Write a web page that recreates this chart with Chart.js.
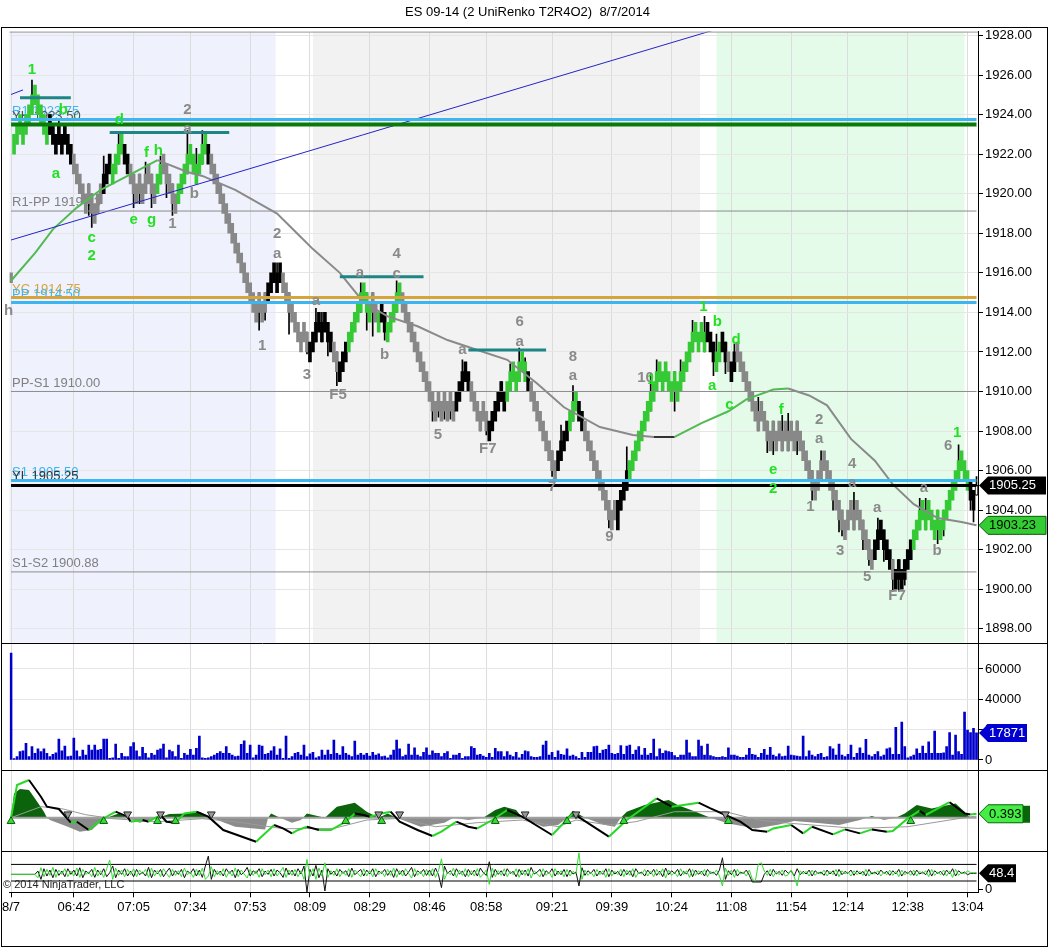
<!DOCTYPE html>
<html>
<head>
<meta charset="utf-8">
<title>ES 09-14 UniRenko</title>
<script src="https://cdn.jsdelivr.net/npm/chart.js@4.4.0/dist/chart.umd.min.js"></script>
<style>
html,body{margin:0;padding:0;background:#fff;}
#wrap{width:1055px;height:948px;}
canvas{display:block;}
</style>
</head>
<body>
<div id="wrap"><canvas id="es" width="1055" height="948"></canvas></div>
<script>
// ---------- data ----------
var chartTitle = 'ES 09-14 (2 UniRenko T2R4O2)  8/7/2014';

// bar closes (one per renko bar)
var closes = [
 1915.5,1923,1923.5,1923,1923.5,1924,1924.5,1925,1924.5,1924,
 1923.5,1923,1923.5,1923,1922.5,1923,1922.5,1923,1922.5,1922,
 1921.5,1921,1920.5,1920,1919.5,1920,1919.5,1919,1919.5,1920,
 1920.5,1921,1921.5,1921,1921.5,1922,1922.5,1922,1921.5,1921,
 1920.5,1920,1920.5,1920,1920.5,1921,1920.5,1920,1920.5,1921,
 1921.5,1921,1920.5,1920,1919.5,1920,1920.5,1921,1921.5,1922,
 1921.5,1921,1921.5,1922,1922.5,1922,1921.5,1921,1920.5,1920,
 1919.5,1919,1918.5,1918,1917.5,1917,1916.5,1916,1915.5,1915,
 1914.5,1914,1914.5,1914,1914.5,1915,1915.5,1916,1915.5,1916,
 1915.5,1915,1914.5,1914,1913.5,1913,1912.5,1913,1912.5,1912,
 1912.5,1913,1913.5,1913,1913.5,1913,1912.5,1912,1911.5,1911,
 1911.5,1912,1912.5,1913,1913.5,1914,1914.5,1915,1914.5,1914,
 1914.5,1914,1913.5,1914,1913.5,1913,1913.5,1914,1914.5,1915,
 1914.5,1914,1913.5,1913,1912.5,1912,1911.5,1911,1910.5,1910,
 1909.5,1909,1909.5,1909,1909.5,1909,1909.5,1909,1909.5,1910,
 1910.5,1911,1910.5,1910,1909.5,1909,1908.5,1909,1908.5,1908,
 1908.5,1909,1909.5,1910,1909.5,1910,1910.5,1911,1910.5,1911,
 1911.5,1911,1910.5,1910,1909.5,1909,1908.5,1908,1907.5,1907,
 1906.5,1906,1906.5,1907,1907.5,1908,1908.5,1909,1909.5,1909,
 1908.5,1908,1907.5,1907,1906.5,1906,1905.5,1905,1904.5,1904,
 1903.5,1904,1903.5,1904.5,1905,1905.5,1906,1906.5,1907,1907.5,
 1908,1908.5,1909,1909.5,1910,1910.5,1911,1910.5,1911,1910.5,
 1910,1910.5,1910,1910.5,1911,1911.5,1912,1912.5,1913,1912.5,
 1913,1912.5,1913,1912.5,1912,1911.5,1912,1912.5,1912,1911.5,
 1911,1911.5,1912,1911.5,1911,1910.5,1910,1909.5,1909,1908.5,
 1909,1908.5,1908,1907.5,1908,1907.5,1908,1907.5,1908,1907.5,
 1908,1907.5,1908,1907.5,1907,1906.5,1906,1905.5,1905,1905.5,
 1906,1906.5,1906,1905.5,1905,1904.5,1904,1903.5,1903,1903.5,
 1904,1903.5,1904,1903.5,1903,1902.5,1902,1901.5,1902,1902.5,
 1903,1902.5,1902,1901.5,1901,1900.5,1901,1900.5,1901,1901.5,
 1902,1902.5,1903,1903.5,1904,1903.5,1904,1903.5,1903,1903.5,
 1903,1903.5,1904,1904.5,1905,1905.5,1906,1906.5,1906,1905.5,
 1905,1904.5,1904,1905.25
];

// paint of each bar: g = up trend, k = counter bar, s = down trend, o = open bar
var barKinds = [
 'sggggggggg','gggkkkkkkk','ksssssssss','skkkggggkk','sssssssssg',
 'gsssssgggg','ggggggksss','ssssssssss','sssssskkkk','ksssssssss',
 'kkkkkkkkss','kkkggggggg','gssgkkgggg','gsssssssss','sssssssssk',
 'kkkkssssss','kkkkkkgggg','gggkssssss','ssskkkkggg','kkssssssss',
 'ssskkkkggg','gggggggggg','gggggggggg','gggkkkggkk','skksssssss',
 'ssssssssss','ssssssssss','ssssssssss','sssssssssk','kkkkkskkkk',
 'kkgggggggg','gggggggggg','gkko'
].join('');

// [bar, wick extreme price]
var wicks = [
 [7,1925.75],[13,1923.9],[16,1923.7],[26,1918.9],[27,1918.3],[31,1921.9],[36,1923.1],[41,1919.3],
 [43,1919.5],[45,1921.6],[47,1919.3],[50,1921.9],[52,1919.8],[54,1918.9],[59,1923.2],[62,1922.3],
 [64,1923.2],[83,1913.1],[85,1913.6],[89,1916.5],[93,1912.9],[99,1911.9],[102,1914.2],[104,1914.0],
 [106,1911.8],[109,1910.3],[117,1915.5],[119,1913.1],[121,1912.8],[125,1912.6],[129,1915.6],
 [141,1908.5],[143,1908.7],[145,1908.6],[147,1908.6],[151,1911.6],[157,1908.1],[159,1907.8],
 [164,1910.5],[167,1911.4],[170,1912.2],[172,1911.7],[181,1905.7],[184,1908.3],[188,1910.3],
 [200,1903.1],[204,1904.2],[206,1907.2],[214,1910.9],[216,1911.6],[222,1909.0],[224,1911.6],
 [228,1913.6],[232,1913.8],[235,1910.8],[236,1912.9],[239,1910.9],[242,1912.4],[250,1909.7],
 [253,1906.9],[255,1906.8],[258,1908.8],[260,1908.9],[263,1906.8],[268,1904.5],[271,1907.0],
 [275,1904.0],[277,1902.9],[278,1902.7],[282,1904.9],[285,1902.0],[287,1901.2],[290,1903.6],
 [292,1901.4],[295,1899.9],[297,1899.9],[299,1900.2],[304,1904.6],[306,1904.6],[310,1902.3],
 [312,1902.7],[317,1907.3],[321,1904.0],[322,1903.4],[323,1905.7]
];

// moving average vertices [bar, price]
var maLine = [
 [0,1915.6],[8,1917.0],[14,1918.2],[22,1919.3],[30,1920.2],[39,1920.9],[49,1921.7],[59,1921.1],
 [64,1920.9],[75,1920.2],[89,1919.0],[97,1917.8],[101,1917.2],[110,1916.0],[118,1914.5],[126,1913.8],
 [136,1913.3],[146,1912.6],[154,1912.2],[166,1911.6],[176,1910.4],[185,1909.2],[197,1908.2],
 [208,1907.8],[215,1907.7],[222,1907.7],[231,1908.4],[240,1909.0],[246,1909.6],[255,1910.1],
 [260,1910.15],[267,1909.8],[273,1909.3],[281,1907.6],[289,1906.5],[295,1905.3],[302,1904.3],
 [310,1903.6],[318,1903.4],[323,1903.23]
];

// pivot levels
var levelNames  = ['R1', 'YH', 'R1-PP', 'YC', 'PP', 'PP-S1', 'S1', 'YL', 'S1-S2'];
var levelPrices = [1923.75, 1923.50, 1919.125, 1914.75, 1914.50, 1910.00, 1905.50, 1905.25, 1900.875];

// swing resistance marks [fromBar, toBar, price]
var swingMarks = [[3,20,1924.85],[33,73,1923.1],[110,138,1915.8],[153,179,1912.1]];

// trend lines [bar, price]
var trendMain  = [[0,1917.66],[240,1928.5]];
var trendShort = [[0,1925.02],[4,1925.25]];

// session shading (bar ranges)
var zoneFrom = [-0.5, 101, 236];
var zoneTo   = [88.5, 230.5, 319];

// wave counts [bar, price, text, u=up count / d=down count]
var waveLabels = [
 [7,1926.27,'1','u'],[17.5,1924.24,'b','u'],[15,1921.0,'a','u'],[27,1917.77,'c','u'],[27,1916.86,'2','u'],
 [36.2,1923.74,'d','u'],[41,1918.68,'e','u'],[45.3,1922.07,'f','u'],[47,1918.68,'g','u'],[49.3,1922.18,'h','u'],
 [-0.8,1914.07,'h','d'],[59,1924.24,'2','d'],[59,1923.28,'a','d'],[61.3,1919.99,'b','d'],[54,1918.48,'1','d'],
 [89,1917.97,'2','d'],[89,1916.96,'a','d'],[84,1912.3,'1','d'],[102,1914.58,'a','d'],[99,1910.84,'3','d'],
 [109.4,1909.83,'F5','d'],[116.7,1916.02,'a','d'],[129,1916.97,'4','d'],[129,1915.97,'c','d'],[125,1911.85,'b','d'],
 [142.8,1907.8,'5','d'],[151,1912.1,'a','d'],[159.5,1907.09,'F7','d'],[170.2,1913.52,'6','d'],[170.2,1912.51,'a','d'],
 [181,1905.18,'7','d'],[188,1911.75,'8','d'],[188,1910.79,'a','d'],[200.2,1902.64,'9','d'],[212.3,1910.69,'10','d'],
 [214.2,1910.59,'1','u'],[231.6,1914.28,'1','u'],[236.3,1913.5,'b','u'],[234.6,1910.28,'a','u'],
 [242.6,1912.61,'d','u'],[240.3,1909.3,'c','u'],[257.7,1909.05,'f','u'],[255,1906.02,'e','u'],[255,1905.1,'2','u'],
 [270.4,1908.57,'2','d'],[270.4,1907.61,'a','d'],[267.4,1904.17,'1','d'],[281.4,1906.32,'4','d'],[281.4,1905.36,'a','d'],
 [277.4,1901.95,'3','d'],[289.8,1904.12,'a','d'],[286.4,1900.6,'5','d'],[296.4,1899.64,'F7','d'],[305.4,1905.13,'a','d'],
 [309.8,1901.95,'b','d'],[313.5,1907.26,'6','d'],[316.5,1907.9,'1','u']
];

// volume per bar
var volume = [
 70500,1000,2200,5500,6000,11000,2200,8800,4400,7300,
 5500,7300,4400,2200,3700,4800,13800,6000,9200,2200,
 2600,14500,6000,2200,6600,3300,9900,6600,9900,6600,
 7000,13800,13800,1100,1500,10500,1100,4400,2200,2200,
 8800,11400,6000,2200,8400,4400,1500,4400,3300,6600,
 7300,10500,1500,6600,5500,2200,9900,1100,4400,3300,
 7000,3300,7700,15800,1500,1100,1500,2200,3300,4400,
 5500,4400,8800,4400,3300,2200,2600,10300,12700,4400,
 9900,1500,3300,9900,9200,3700,4400,6000,8800,3300,
 7300,1100,15800,1100,2200,4400,5000,3300,9900,2200,
 4000,5000,1500,2200,6600,3300,6600,3700,13200,4400,
 3300,8800,4400,3300,2200,12500,3300,4400,3300,4400,
 2600,5000,3300,4000,2200,2600,1500,3300,6600,13200,
 7300,2200,3300,10500,3300,8100,3300,2200,5000,8100,
 3300,6000,4400,4400,2200,4400,5500,1100,3300,3300,
 4400,1100,2200,2200,8800,7700,3300,3700,2600,1800,
 4400,1800,7700,5500,5500,2200,5500,3300,2200,5000,
 1500,3700,6000,
 5500,2200,1800,1800,2200,9900,12500,3300,5000,1800,
 6000,3700,3300,7300,2600,3300,2200,1100,5000,1800,
 5000,5000,8800,9200,4400,6600,7000,9900,4400,3700,
 4400,9500,3700,9200,9900,3700,6600,8800,3300,7700,
 3300,4400,13800,2200,7300,4400,6000,5500,5000,
 2900,1800,3300,3300,13200,4800,2200,2200,13200,9200,
 3300,10500,2900,2200,1800,1800,2200,1800,8100,3300,
 3300,2600,1800,1800,3300,7700,3700,3300,1800,4400,
 7000,3300,8400,3300,2200,4000,2200,2600,9200,3300,
 2900,2600,2200,15800,2200,6000,3300,2200,3700,4400,
 1800,2200,8800,7300,3300,10500,3300,2200,3700,9900,
 1800,4400,8100,4400,13600,3300,2200,3700,5500,2200,
 3300,7300,8100,3700,21500,3700,25000,8800,1500,2200,
 3300,7300,4400,9200,4400,11900,4400,19100,4400,4400,
 4800,8800,18000,3300,16500,5500,3700,31600,19800,18000,
 20900,17871
];
var volumeTicks = [0, 20000, 40000, 60000];

// oscillator panel [bar, value]
var oscLine = [
 [0,0],[2,3.27],[6,3.77],[10,2.1],[12,1.1],[16,0.87],[20,-0.5],[22,-0.4],[26,-1.23],[30,-0.23],
 [35,0.6],[39,0.1],[40,-0.4],[44,-0.23],[46,-0.4],[50,0.27],[52,-0.4],[55,-0.5],[58,0.43],[62,0.6],
 [66,0.1],[71,-1.23],[82,-2.4],[88,-0.73],[91,-1.07],[94,-1.57],[96,-1.23],[99,-0.9],[103,-1.23],
 [107,-1.23],[112,-0.4],[115,0.43],[118,0.27],[120,0.1],[124,0.43],[127,0.6],[130,-0.4],[136,-1.23],
 [141,-1.83],[144,-1.4],[149,-0.4],[153,-0.9],[156,-1.07],[161,-0.23],[166,0.77],[171,0.1],
 [181,-1.73],[188,0.43],[200,-1.9],[206,-0.23],[216,1.93],[221,1.1],[225,1.27],[230,1.5],[234,0.93],
 [239,0.27],[244,-0.4],[248,-1.23],[253,-1.4],[255,-1.07],[258,-0.9],[261,-0.73],[265,-1.57],
 [268,-0.9],[275,-1.67],[279,-1.17],[284,-1.57],[288,-1.17],[293,-1.4],[295,-1.33],[300,-0.07],
 [304,0.7],[306,0.27],[314,1.55],[319,0.43],[321,0.33],[323,0.393]
];
var oscSignal = [
 [0,0],[10,1.1],[17,0.9],[25,0.3],[34,-0.1],[49,-0.4],[64,-0.1],[75,-0.4],[91,-1.1],[108,-1.07],
 [119,-0.23],[130,-0.07],[142,-0.9],[156,-0.5],[171,-0.23],[183,-0.9],[189,-0.23],[200,-0.73],
 [209,-0.4],[222,0.6],[239,0.6],[250,-0.23],[261,-0.57],[283,-1.07],[300,-0.9],[321,0.1],[323,0.15]
];
var oscHist = [
 [0,0],[1,2.43],[3,2.87],[6,2.77],[8,1.93],[11,0.6],[12,0],[13,-0.23],[19,-0.9],[23,-1.4],[27,-1.23],
 [30,-0.4],[32,0],[36,0.43],[39,0],[43,-0.5],[49,0],[53,0.37],[59,0.43],[63,0.6],[67,0],[75,-0.9],
 [85,-1.17],[86,0],[87,0.43],[90,0],[94,-0.5],[97,-0.23],[99,0.43],[105,0],[109,1.1],[115,1.5],
 [119,0.6],[123,0],[126,0.43],[129,0],[137,-0.9],[145,-0.5],[148,0],[153,-0.23],[158,0],[162,0.77],
 [165,1.1],[169,0.77],[171,0],[178,-0.9],[183,-0.73],[186,0],[188,0.7],[192,0],[198,-0.67],[202,-0.9],
 [204,0],[206,0.6],[212,1.27],[220,1.77],[223,1.27],[229,0.6],[234,0],[240,-0.57],[249,-1.07],
 [257,-0.67],[262,-0.33],[269,-0.5],[277,-0.73],[284,-0.23],[288,0.17],[292,-0.23],[296,0],
 [299,0.43],[303,1.27],[308,0.93],[316,1.43],[319,0.6],[321,0]
];
var crossUp   = [0, 31, 49, 55, 112, 124, 162, 186, 205, 240, 301];
var crossDown = [19, 39, 50, 67, 123, 130, 172, 189, 239];

// bottom oscillator, one value per bar
var fastOsc = [
 45,45,45,45,45,45,45,45,45,55,30,62,40,58,35,60,42,55,38,62,
 45,58,40,65,35,55,48,60,36,58,44,62,38,50,70,35,58,45,62,40,
 55,38,60,44,52,40,66,35,58,46,60,38,52,64,40,56,45,60,35,55,
 48,62,40,58,36,70,100,30,60,45,55,40,62,48,58,35,60,44,52,66,
 40,56,48,62,38,55,45,60,40,58,50,36,64,44,58,40,62,46,70,-8,
 60,40,72,35,58,-5,62,45,55,40,60,48,56,38,64,44,52,60,40,58,
 46,62,38,55,48,60,42,56,36,62,45,58,40,52,66,38,56,48,60,42,
 58,40,64,44,5,70,48,56,40,62,46,55,38,60,44,58,40,64,50,42,
 83,36,60,45,56,40,62,48,54,38,60,44,58,40,66,46,52,60,38,56,
 48,62,40,55,44,60,38,58,46,52,10,65,42,56,48,60,40,55,45,62,
 38,58,46,54,40,60,44,56,38,62,48,52,40,58,46,60,42,55,38,64,
 44,56,48,60,40,54,46,62,38,58,45,55,40,60,48,52,42,58,95,30,
 56,44,60,40,52,48,58,42,22,22,22,22,45,56,40,60,46,54,42,58,
 48,56,40,62,44,54,46,58,40,56,48,52,42,58,46,56,40,60,44,54,
 48,58,42,56,46,54,40,60,46,52,44,58,48,54,42,56,46,60,40,54,
 48,56,42,58,46,52,44,60,40,56,48,54,42,58,46,62,40,56,48,52,
 44,48,48,48.4
];
var slowOsc = [
 45,45,45,45,45,45,45,45,45,35,65,38,60,42,66,36,58,45,62,38,
 55,40,64,36,60,45,52,38,66,40,56,36,62,88,30,64,42,58,38,60,
 44,62,38,58,46,60,36,64,40,56,38,62,48,36,60,42,56,38,64,44,
 52,36,60,42,64,30,40,68,38,56,42,62,36,54,40,64,38,58,46,34,
 60,42,56,36,62,44,58,38,62,40,52,66,36,58,42,60,38,56,30,90,
 38,62,30,64,40,80,36,56,42,62,38,54,42,62,36,58,48,38,62,40,
 56,38,62,44,54,38,60,42,64,36,56,40,62,48,34,62,42,54,38,60,
 40,62,36,56,92,30,52,44,64,36,58,42,62,38,56,40,62,36,46,58,
 15,64,38,56,42,62,38,54,44,62,36,58,42,62,34,56,46,38,62,42,
 52,36,62,44,56,38,60,40,54,46,110,30,58,42,52,38,60,44,56,36,
 62,40,54,44,60,38,58,42,62,36,52,46,60,40,54,38,60,44,62,34,
 58,42,52,38,62,44,56,36,60,42,56,44,60,38,54,46,58,40,10,64,
 42,58,36,60,46,52,40,58,30,25,75,80,55,42,60,38,54,44,58,40,
 44,58,38,10,56,46,54,40,58,42,52,46,58,40,54,44,60,38,56,46,
 52,40,56,44,54,42,60,40,52,46,56,40,52,44,58,42,54,38,58,44,
 52,42,58,40,54,46,56,38,60,42,52,44,58,40,54,36,60,42,52,46,
 56,50,50,50
];
var bandLevels = [25, 75];

// time axis
var tickIdx  = [0,21,41,60,80,100,120,140,159,181,201,221,241,261,280,300,320];
var tickText = ['8/7','06:42','07:05','07:34','07:53','08:09','08:29','08:46','08:58',
                '09:21','09:39','10:24','11:08','11:54','12:14','12:38','13:04'];

// ---------- build ----------
Chart.defaults.font.family = "'Liberation Sans', Arial, sans-serif";
Chart.defaults.font.size = 13;
Chart.defaults.color = '#000';

var N = closes.length;
var idx = closes.map(function(c, i){ return i; });
var last = N - 1;

var opens = closes.map(function(c, i){
  if (barKinds[i] === 'o') return c - 0.5;
  if (i === 0) return c + 0.5;
  var d = c - closes[i-1];
  if (Math.abs(d) > 1) return c - Math.sign(d);
  return closes[i-1] - Math.sign(d) * 0.5;
});
var bodies = closes.map(function(c, i){ return [opens[i], c]; });
var wickData = closes.map(function(){ return null; });
wicks.forEach(function(w){
  var i = w[0];
  var lo = Math.min(opens[i], closes[i]), hi = Math.max(opens[i], closes[i]);
  wickData[i] = [Math.min(lo, w[1]), Math.max(hi, w[1])];
});

var kindFill = {g:'#36c936', k:'#000000', s:'#888888', o:'#ffffff'};
var bodyColors = barKinds.split('').map(function(k){ return kindFill[k]; });
var bodyBorder = barKinds.split('').map(function(k){ return k === 'o' ? 1 : 0; });

function pts(list){ return list.map(function(a){ return {x:a[0], y:a[1]}; }); }

var levelStyle = {
  'R1':    ['#3db5ee', 3, '#3db5ee'],
  'YH':    ['#0b7a0b', 4, '#4a5a4a'],
  'R1-PP': ['#8c8c8c', 1, '#808080'],
  'YC':    ['#d6a43c', 3, '#d6a43c'],
  'PP':    ['#3db5ee', 3, '#3db5ee'],
  'PP-S1': ['#8c8c8c', 1, '#808080'],
  'S1':    ['#3db5ee', 3, '#3db5ee'],
  'YL':    ['#000000', 3, '#333333'],
  'S1-S2': ['#8c8c8c', 1, '#808080']
};

var datasets = [];

levelNames.forEach(function(name, k){
  datasets.push({
    type:'line', yAxisID:'yPrice', order:1,
    data: pts([[0, levelPrices[k]], [last, levelPrices[k]]]),
    borderColor: levelStyle[name][0], borderWidth: levelStyle[name][1],
    pointRadius:0
  });
});
swingMarks.forEach(function(m){
  datasets.push({
    type:'line', yAxisID:'yPrice', order:1,
    data: pts([[m[0], m[2]], [m[1], m[2]]]),
    borderColor:'#1e8585', borderWidth:3, pointRadius:0
  });
});
[trendMain, trendShort].forEach(function(t){
  datasets.push({
    type:'line', yAxisID:'yPrice', order:1, data: pts(t),
    borderColor:'#2424c8', borderWidth:1, pointRadius:0
  });
});
datasets.push({
  type:'line', yAxisID:'yPrice', order:2, data: pts(maLine),
  borderWidth:2, pointRadius:0, borderColor:'#8a8a8a',
  segment:{ borderColor: function(c){
    var d = c.p1.parsed.y - c.p0.parsed.y;
    return d > 0 ? '#52ba52' : (d < 0 ? '#8a8a8a' : '#333333');
  }}
});
datasets.push({
  type:'bar', yAxisID:'yPrice', order:3, data: bodies, grouped:false,
  barThickness:3, backgroundColor: bodyColors, borderColor:'#000',
  borderWidth: bodyBorder, borderSkipped:false
});
datasets.push({
  type:'bar', yAxisID:'yPrice', order:4, data: wickData, grouped:false,
  barThickness:1, backgroundColor:'#000'
});
datasets.push({
  type:'bar', yAxisID:'yVol', order:5, data: volume, grouped:false,
  barThickness:2, backgroundColor:'#0000cc'
});
datasets.push({
  type:'line', yAxisID:'yOsc', order:9, data: pts(oscHist),
  borderWidth:0, pointRadius:0,
  fill:{ target:'origin', above:'#0b640b', below:'#8c8c8c' }
});
datasets.push({
  type:'line', yAxisID:'yOsc', order:8, data: pts([[0,0],[last,0]]),
  borderColor:'#a0a0a0', borderWidth:2, pointRadius:0
});
datasets.push({
  type:'line', yAxisID:'yOsc', order:7, data: pts(oscSignal),
  borderColor:'#9a9a9a', borderWidth:1, pointRadius:0
});
datasets.push({
  type:'line', yAxisID:'yOsc', order:6, data: pts(oscLine),
  borderWidth:2, pointRadius:0, borderColor:'#000',
  segment:{ borderColor: function(c){ return c.p1.parsed.y >= c.p0.parsed.y ? '#27d827' : '#000'; } }
});
datasets.push({
  type:'line', yAxisID:'yOsc', order:5, showLine:false,
  data: crossUp.map(function(i){ return {x:i, y:-0.35}; }),
  pointStyle:'triangle', pointRadius:4.5, pointBackgroundColor:'#33dd33', pointBorderColor:'#0a5a0a', pointBorderWidth:1
});
datasets.push({
  type:'line', yAxisID:'yOsc', order:5, showLine:false,
  data: crossDown.map(function(i){ return {x:i, y:0.35}; }),
  pointStyle:'triangle', pointRotation:180, pointRadius:4.5, pointBackgroundColor:'#999999', pointBorderColor:'#222', pointBorderWidth:1
});
bandLevels.forEach(function(v){
  datasets.push({
    type:'line', yAxisID:'yBot', order:7, data: pts([[0,v],[last,v]]),
    borderColor:'#000', borderWidth:1, pointRadius:0
  });
});
datasets.push({
  type:'line', yAxisID:'yBot', order:6, data: fastOsc,
  borderColor:'#111', borderWidth:1, pointRadius:0
});
datasets.push({
  type:'line', yAxisID:'yBot', order:5, data: slowOsc,
  borderColor:'#33dd33', borderWidth:1, pointRadius:0
});

function drawTag(ctx, y, text, fill, stroke, color, right){
  var x0 = 979, h = 9;
  ctx.beginPath();
  ctx.moveTo(x0, y);
  ctx.lineTo(x0 + 9, y - h);
  ctx.lineTo(right, y - h);
  ctx.lineTo(right, y + h);
  ctx.lineTo(x0 + 9, y + h);
  ctx.closePath();
  ctx.fillStyle = fill; ctx.fill();
  if (stroke) { ctx.strokeStyle = stroke; ctx.lineWidth = 1; ctx.stroke(); }
  ctx.fillStyle = color;
  ctx.textAlign = 'left'; ctx.textBaseline = 'middle';
  ctx.font = "13px 'Liberation Sans', Arial, sans-serif";
  ctx.fillText(text, x0 + 10, y + 0.5);
}

var panelPlugin = {
  id:'panels',
  beforeDraw: function(chart){
    var ctx = chart.ctx, x = chart.scales.x, yP = chart.scales.yPrice;
    var zoneColors = ['#eff1fc', '#f2f2f2', '#e5fbe9'];
    ctx.save();
    ctx.fillStyle = '#fff';
    ctx.fillRect(0, 0, chart.width, chart.height);
    for (var k = 0; k < zoneFrom.length; k++) {
      var l = x.getPixelForValue(zoneFrom[k]), r = x.getPixelForValue(zoneTo[k]);
      ctx.fillStyle = zoneColors[k];
      ctx.fillRect(l, yP.top, r - l, yP.bottom - yP.top);
    }
    ctx.restore();
  },
  beforeDatasetsDraw: function(chart){
    var ctx = chart.ctx, yP = chart.scales.yPrice;
    ctx.save();
    ctx.font = "13px 'Liberation Sans', Arial, sans-serif";
    ctx.textAlign = 'left'; ctx.textBaseline = 'bottom';
    levelNames.forEach(function(name, k){
      ctx.fillStyle = levelStyle[name][2];
      ctx.fillText(name + ' ' + levelPrices[k].toFixed(2), 12, yP.getPixelForValue(levelPrices[k]) - 2);
    });
    ctx.restore();
  },
  afterDatasetsDraw: function(chart){
    var ctx = chart.ctx, x = chart.scales.x, yP = chart.scales.yPrice, yB = chart.scales.yBot;
    ctx.save();
    ctx.font = "bold 15px 'Liberation Sans', Arial, sans-serif";
    ctx.textAlign = 'center'; ctx.textBaseline = 'middle';
    waveLabels.forEach(function(w){
      ctx.fillStyle = w[3] === 'u' ? '#24e024' : '#8a8a8a';
      ctx.fillText(w[2], x.getPixelForValue(w[0]), yP.getPixelForValue(w[1]));
    });
    ctx.font = "11px 'Liberation Sans', Arial, sans-serif";
    ctx.textAlign = 'left'; ctx.fillStyle = '#222';
    ctx.fillText('\u00a9 2014 NinjaTrader, LLC', 3, yB.bottom - 7);
    ctx.restore();
  },
  afterDraw: function(chart){
    var ctx = chart.ctx, s = chart.scales, area = chart.chartArea;
    ctx.save();
    ctx.strokeStyle = '#999'; ctx.lineWidth = 1;
    ctx.beginPath(); ctx.moveTo(area.left, area.top + 0.5); ctx.lineTo(area.right, area.top + 0.5); ctx.stroke();
    ctx.strokeStyle = '#000';
    [s.yVol.top, s.yOsc.top, s.yBot.top].forEach(function(t){
      var yy = Math.round(t) + 0.5;
      ctx.beginPath(); ctx.moveTo(1, yy); ctx.lineTo(1047, yy); ctx.stroke();
    });
    ctx.strokeRect(1.5, 27.5, 1046, 919);
    drawTag(ctx, s.yPrice.getPixelForValue(closes[last]), closes[last].toFixed(2), '#000', null, '#fff', 1046);
    drawTag(ctx, s.yPrice.getPixelForValue(maLine[maLine.length-1][1]), maLine[maLine.length-1][1].toFixed(2), '#33cc33', '#0a5a0a', '#000', 1046);
    drawTag(ctx, s.yVol.getPixelForValue(volume[last]), String(volume[last]), '#0000d0', null, '#fff', 1027);
    var oy = s.yOsc.getPixelForValue(oscLine[oscLine.length-1][1]);
    ctx.fillStyle = '#0a640a'; ctx.fillRect(1010, oy - 8, 20, 17);
    drawTag(ctx, oy, oscLine[oscLine.length-1][1].toFixed(3), '#44ee44', '#0a640a', '#000', 1023);
    drawTag(ctx, s.yBot.getPixelForValue(fastOsc[last]), fastOsc[last].toFixed(1), '#000', null, '#fff', 1016);
    ctx.restore();
  }
};

function fixWidth(sc){ sc.width = 69; }

new Chart(document.getElementById('es'), {
  type:'bar',
  data:{ labels: idx, datasets: datasets },
  options:{
    responsive:false, animation:false, devicePixelRatio:1,
    layout:{ padding:{ left:8, right:8, top:0, bottom:0 } },
    plugins:{
      legend:{ display:false }, tooltip:{ enabled:false },
      title:{ display:true, text: chartTitle, color:'#000',
              font:{ size:13, weight:'normal' }, padding:{ top:5, bottom:11 } }
    },
    scales:{
      x:{
        type:'category', offset:true,
        grid:{ offset:false, color:'#dcdcdc', tickColor:'#000', tickLength:5 },
        border:{ color:'#000' },
        ticks:{ autoSkip:false, maxRotation:0, minRotation:0, padding:2, color:'#000',
                callback:function(v, k){ return tickText[k]; } },
        afterBuildTicks:function(sc){ sc.ticks = tickIdx.map(function(v){ return {value:v}; }); },
        afterFit:function(sc){ sc.height = 55.7; }
      },
      yPrice:{
        type:'linear', position:'right', stack:'panes', stackWeight:611, weight:1,
        min:1897.3, max:1928.2,
        ticks:{ stepSize:2, includeBounds:false, padding:2, color:'#000',
                callback:function(v){ return v.toFixed(2); } },
        grid:{ color:'#e6e6e6', tickColor:'#000', tickLength:5 },
        border:{ color:'#000' },
        afterFit: fixWidth
      },
      yVol:{
        type:'linear', position:'right', stack:'panes', stackWeight:127, weight:2,
        min:-6330, max:77390,
        ticks:{ padding:2, color:'#000', autoSkip:false,
                callback:function(v){ return String(v); } },
        afterBuildTicks:function(sc){ sc.ticks = volumeTicks.map(function(v){ return {value:v}; }); },
        grid:{ color:'#e6e6e6', tickColor:'#000', tickLength:5 },
        border:{ color:'#000' },
        afterFit: fixWidth
      },
      yOsc:{
        type:'linear', position:'right', stack:'panes', stackWeight:81, weight:3,
        min:-3.29, max:4.81,
        ticks:{ display:false },
        grid:{ display:false },
        border:{ color:'#000' },
        afterFit: fixWidth
      },
      yBot:{
        type:'linear', position:'right', stack:'panes', stackWeight:41.7, weight:4,
        min:-9, max:116.6,
        ticks:{ padding:2, color:'#000', callback:function(v){ return String(v); } },
        afterBuildTicks:function(sc){ sc.ticks = [{value:0}]; },
        grid:{ color:'rgba(0,0,0,0)', tickColor:'#000', tickLength:5 },
        border:{ color:'#000' },
        afterFit: fixWidth
      }
    }
  },
  plugins:[panelPlugin]
});
</script>
</body>
</html>
